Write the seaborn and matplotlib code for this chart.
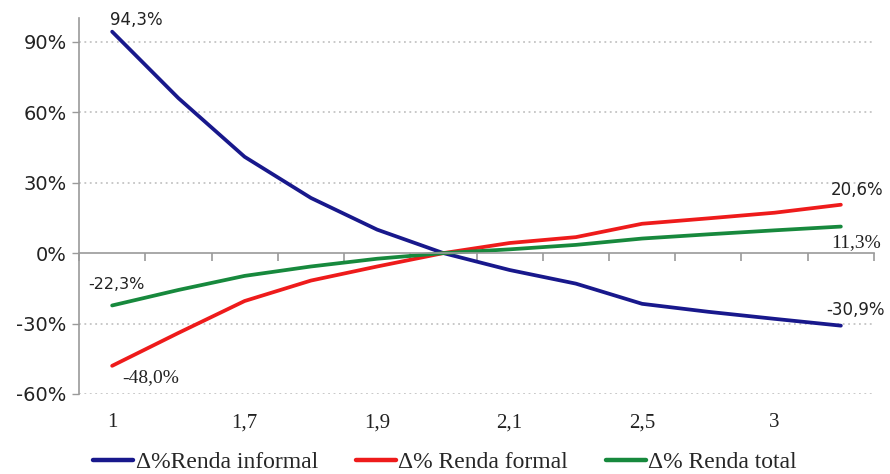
import numpy as np
import pandas as pd
import matplotlib
matplotlib.use("Agg")
import matplotlib.pyplot as plt
import seaborn as sns
from matplotlib.ticker import FixedLocator, FuncFormatter

# Categories along the horizontal axis (every other one is labelled)
categories = ["1", "1,5", "1,7", "1,8", "1,9", "2", "2,1", "2,2", "2,5", "2,7", "3", "3,5"]

# Percentage change of each income series
renda_informal = [94.3, 66.0, 41.0, 23.5, 10.0, 0.0, -7.2, -13.0, -21.6, -25.0, -28.0, -30.9]
renda_formal = [-48.0, -34.0, -20.4, -11.7, -5.7, 0.0, 4.3, 6.8, 12.5, 14.8, 17.2, 20.6]
renda_total = [-22.3, -15.7, -9.7, -5.7, -2.4, 0.0, 1.6, 3.5, 6.2, 8.0, 9.7, 11.3]

series_names = ["Δ%Renda informal", "Δ% Renda formal", "Δ% Renda total"]
series_values = [renda_informal, renda_formal, renda_total]
colors = ["#18188c", "#ee1b1b", "#17893d"]

y_ticks = [-60, -30, 0, 30, 60, 90]

pos = np.arange(len(categories))
df = pd.concat(
    [pd.DataFrame({"pos": pos, "valor": vals, "serie": name})
     for name, vals in zip(series_names, series_values)],
    ignore_index=True,
)

sns.set_theme(style="white")
plt.rcParams["font.family"] = ["DejaVu Sans"]

fig = plt.figure(figsize=(8.9, 4.74), dpi=100)
ax = fig.add_axes([0.0888, 0.1688, 0.8932, 0.7926])

sns.lineplot(data=df, x="pos", y="valor", hue="serie", hue_order=series_names,
             palette=colors, linewidth=2.7, ax=ax, legend=True, sort=False,
             solid_capstyle="round")

ax.set_xlim(-0.5, len(categories) - 0.5)
ax.set_ylim(-60, 100)
ax.set_xlabel("")
ax.set_ylabel("")

# Dotted horizontal gridlines (zero is drawn by the category axis itself)
for yv in y_ticks:
    if yv != 0:
        ax.axhline(yv, color="#c4c4c4", linestyle=(0, (1, 2)), linewidth=1.3, zorder=0)

# Y axis
ax.yaxis.set_major_locator(FixedLocator(y_ticks))
ax.yaxis.set_major_formatter(FuncFormatter(lambda v, p: f"{v:.0f}%"))
ax.tick_params(axis="y", which="major", left=True, length=5, width=1,
               color="#9a9a9a", labelsize=14, labelcolor="#222222", pad=4)
for s in ["top", "right"]:
    ax.spines[s].set_visible(False)
ax.spines["left"].set_color("#9a9a9a")
ax.spines["left"].set_linewidth(1.2)

# Category axis crossing at zero, with tick marks between categories
ax.spines["bottom"].set_position(("data", 0))
ax.spines["bottom"].set_color("#9a9a9a")
ax.spines["bottom"].set_linewidth(1.2)
ax.xaxis.set_major_locator(FixedLocator([]))
ax.xaxis.set_minor_locator(FixedLocator(np.arange(len(categories) + 1) - 0.5))
ax.tick_params(axis="x", which="minor", bottom=True, direction="out",
               length=6, width=1.2, color="#9a9a9a")

# Category labels at the foot of the plot area
sec = ax.secondary_xaxis("bottom")
sec.set_xticks(pos[::2])
sec.set_xticklabels(categories[::2], fontfamily="Liberation Serif", fontsize=15,
                    color="#222222")
sec.tick_params(axis="x", length=0, pad=14)
sec.spines["bottom"].set_visible(False)

# Value labels at the ends of each line
serif = "Liberation Serif"
labels = [
    (0, renda_informal[0], "DejaVu Sans", 12, (-2, 3), "left", "bottom"),
    (0, renda_total[0], "DejaVu Sans", 11.5, (4, 13), "center", "bottom"),
    (0, renda_formal[0], serif, 14, (10, -3), "left", "top"),
    (11, renda_formal[-1], "DejaVu Sans", 12, (-10, 6), "left", "bottom"),
    (11, renda_total[-1], serif, 14, (-10, -8), "left", "top"),
    (11, renda_informal[-1], "DejaVu Sans", 12, (-15, 7), "left", "bottom"),
]
for i, v, fam, fs, off, ha, va in labels:
    ax.annotate(f"{v:.1f}%".replace(".", ","), (pos[i], v), xytext=off,
                textcoords="offset pixels", ha=ha, va=va, fontsize=fs,
                fontfamily=fam, color="#222222")

# Legend below the chart
handles, _ = ax.get_legend_handles_labels()
ax.legend(handles, series_names, loc="lower center", bbox_to_anchor=(0.5, 0.002),
          bbox_transform=fig.transFigure, ncol=3, frameon=False,
          prop={"family": "Liberation Serif", "size": 17},
          handlelength=1.7, handletextpad=0.1, columnspacing=1.6,
          borderaxespad=0.0, borderpad=0.0)
for line in ax.get_legend().get_lines():
    line.set_linewidth(3.2)

fig.savefig("out.png", dpi=100)
